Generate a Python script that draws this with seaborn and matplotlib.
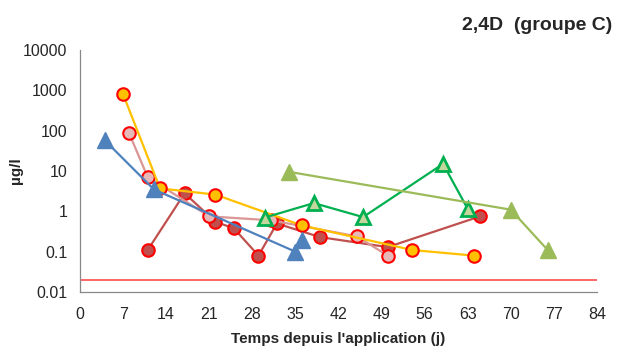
import matplotlib
matplotlib.use("Agg")
import matplotlib.pyplot as plt
import matplotlib.ticker as mticker
import seaborn as sns
import pandas as pd
import numpy as np

# Data (days since application, concentration µg/l)
orange_x = [7, 13, 22, 36, 54, 64]
orange_y = [800, 3.7, 2.6, 0.45, 0.11, 0.08]
pink_x = [8, 11, 21, 31, 45, 50]
pink_y = [85, 7, 0.75, 0.6, 0.24, 0.08]
darkred_x = [11, 17, 22, 25, 29, 32, 39, 50, 65]
darkred_y = [0.11, 2.8, 0.55, 0.38, 0.08, 0.5, 0.23, 0.13, 0.75]
blue_x = [4, 12, 35, 36]
blue_y = [58, 3.5, 0.1, 0.2]
green_x = [30, 38, 46, 59, 63]
green_y = [0.7, 1.6, 0.72, 15, 1.15]
olive_x = [34, 70, 76]
olive_y = [9.5, 1.1, 0.11]
limit_value = 0.02
x_ticks = list(range(0, 85, 7))
y_ticks = [0.01, 0.1, 1, 10, 100, 1000, 10000]
y_ticklabels = ["0.01", "0.1", "1", "10", "100", "1000", "10000"]

sns.set_style("white")
plt.rcParams['font.family'] = ['Liberation Sans', 'DejaVu Sans']

fig = plt.figure(figsize=(6.33, 3.54), dpi=100)
ax = fig.add_axes([0.1264, 0.175, 0.943 - 0.1264, 0.859 - 0.175])

series = [
    (darkred_x, darkred_y, dict(color="#C0504D", marker="o", markerfacecolor="#C0504D",
                                markeredgecolor="#FF0000", markersize=9, markeredgewidth=1.5)),
    (pink_x, pink_y, dict(color="#DA9694", marker="o", markerfacecolor="#E6B9B8",
                          markeredgecolor="#FF0000", markersize=9, markeredgewidth=1.5)),
    (orange_x, orange_y, dict(color="#FFC000", marker="o", markerfacecolor="#FFC000",
                              markeredgecolor="#FF0000", markersize=9, markeredgewidth=1.5)),
    (blue_x, blue_y, dict(color="#4F81BD", marker="^", markerfacecolor="#4F81BD",
                          markeredgecolor="#4F81BD", markersize=11, markeredgewidth=1)),
    (green_x, green_y, dict(color="#00B050", marker="^", markerfacecolor="#C3D69B",
                            markeredgecolor="#00B050", markersize=10, markeredgewidth=2)),
    (olive_x, olive_y, dict(color="#9BBB59", marker="^", markerfacecolor="#9BBB59",
                            markeredgecolor="#9BBB59", markersize=11, markeredgewidth=1)),
]
for xs, ys, kw in series:
    df = pd.DataFrame({"x": xs, "y": ys})
    sns.lineplot(data=df, x="x", y="y", ax=ax, sort=False, linewidth=1.6,
                 legend=False, **kw)

ax.axhline(limit_value, color="#FF3333", linewidth=1.3, alpha=0.8, zorder=1)

ax.set_yscale("log")
ax.set_ylim(0.01, 10000)
ax.set_xlim(0, 84)
ax.set_xticks(x_ticks)
ax.set_xticklabels([str(t) for t in x_ticks])
ax.set_yticks(y_ticks)
ax.set_yticklabels(y_ticklabels)
ax.yaxis.set_minor_locator(mticker.LogLocator(base=10, subs=np.arange(2, 10)))
ax.yaxis.set_minor_formatter(mticker.NullFormatter())
ax.tick_params(axis="both", which="major", direction="in", length=4, color="#888888",
               labelsize=11.5, width=0.8)
ax.tick_params(axis="y", which="minor", direction="in", length=2.5, color="#888888", width=0.6)
ax.tick_params(axis="x", which="major", pad=11)
ax.tick_params(axis="y", which="major", pad=9)

for s in ["top", "right"]:
    ax.spines[s].set_visible(False)
for s in ["left", "bottom"]:
    ax.spines[s].set_color("#888888")
    ax.spines[s].set_linewidth(0.9)

ax.set_xlabel("Temps depuis l'application (j)", fontsize=11, fontweight="bold", labelpad=7)
ax.set_ylabel("µg/l", fontsize=11, fontweight="bold", labelpad=0)
fig.text(0.967, 0.927, "2,4D  (groupe C)", ha="right", va="center", fontsize=14,
         fontweight="bold")

fig.savefig("out.png", dpi=100)
